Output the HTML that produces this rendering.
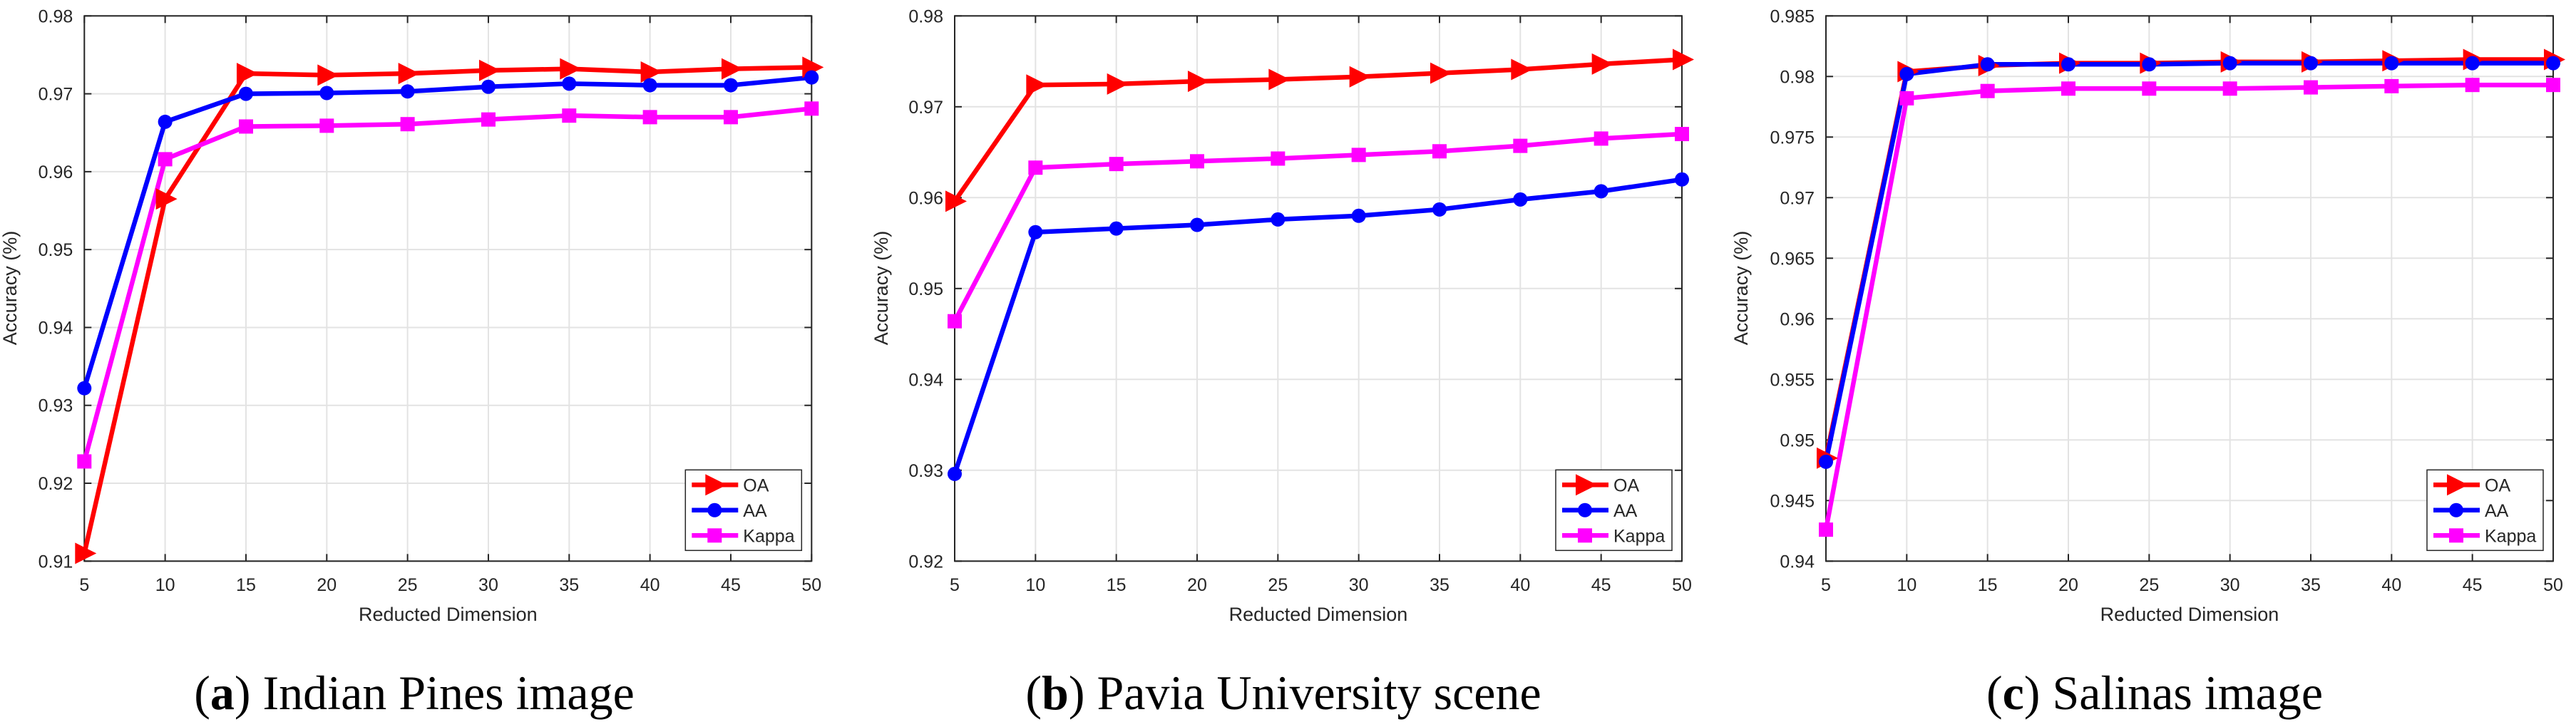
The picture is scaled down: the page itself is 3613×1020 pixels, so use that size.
<!DOCTYPE html>
<html><head><meta charset="utf-8"><style>
html,body{margin:0;padding:0;background:#fff;}
svg{display:block;}
text{font-family:"Liberation Sans",sans-serif;fill:#262626;}
.cap{font-family:"Liberation Serif",serif;fill:#000;}
</style></head><body>
<svg id="fig" width="3613" height="1020" viewBox="0 0 3613 1020" xmlns="http://www.w3.org/2000/svg"></svg>
<script>
const categories = [5,10,15,20,25,30,35,40,45,50];
const oaA = [0.911,0.9565,0.9726,0.9724,0.9726,0.9730,0.9732,0.9728,0.9732,0.9734];
const aaA = [0.9322,0.9664,0.9700,0.9701,0.9703,0.9709,0.9713,0.9711,0.9711,0.9721];
const kaA = [0.9228,0.9616,0.9658,0.9659,0.9661,0.9667,0.9672,0.9670,0.9670,0.9681];
const oaB = [0.9596,0.9724,0.9725,0.9728,0.9730,0.9733,0.9737,0.9741,0.9747,0.9752];
const aaB = [0.9296,0.9562,0.9566,0.9570,0.9576,0.9580,0.9587,0.9598,0.9607,0.9620];
const kaB = [0.9464,0.9633,0.9637,0.9640,0.9643,0.9647,0.9651,0.9657,0.9665,0.9670];
const oaC = [0.9485,0.9804,0.9809,0.9811,0.9811,0.9812,0.9812,0.9813,0.9814,0.9814];
const aaC = [0.9482,0.9802,0.9810,0.9810,0.9810,0.9811,0.9811,0.9811,0.9811,0.9811];
const kaC = [0.9426,0.9782,0.9788,0.9790,0.9790,0.9790,0.9791,0.9792,0.9793,0.9793];
const ticksA = ["0.91","0.92","0.93","0.94","0.95","0.96","0.97","0.98"];
const ticksB = ["0.92","0.93","0.94","0.95","0.96","0.97","0.98"];
const ticksC = ["0.94","0.945","0.95","0.955","0.96","0.965","0.97","0.975","0.98","0.985"];
const seriesNames = ["OA","AA","Kappa"];
const captionsBold = ["a","b","c"];
const captionsText = [" Indian Pines image"," Pavia University scene"," Salinas image"];

const NS="http://www.w3.org/2000/svg";
const svg=document.getElementById('fig');
function mk(tag,attrs,parent){const e=document.createElementNS(NS,tag);for(const k in attrs)e.setAttribute(k,attrs[k]);(parent||svg).appendChild(e);return e;}
const colors=["#ff0000","#0000ff","#ff00ff"];

function marker(g,kind,cx,cy,col){
  let m;
  if(kind===0){m=mk('polygon',{points:`${cx-13},${cy-15} ${cx+17},${cy} ${cx-13},${cy+15}`,fill:col},g);}
  else if(kind===1){m=mk('circle',{cx:cx,cy:cy,r:10,fill:col},g);}
  else {m=mk('rect',{x:cx-10,y:cy-10,width:20,height:20,fill:col},g);}
  return m;
}

function panel(idx,left,ticks,series,capCenter,ylabX){
  const right=left+1020, top=22.3, bottom=787.3;
  const ymin=parseFloat(ticks[0]), ymax=parseFloat(ticks[ticks.length-1]);
  const xs=v=>left+(v-categories[0])/(categories[categories.length-1]-categories[0])*(right-left);
  const ys=v=>bottom-(v-ymin)/(ymax-ymin)*(bottom-top);
  const g=mk('g',{});
  
  
  mk('rect',{x:left,y:top,width:right-left,height:bottom-top,fill:'#fff'},g);
  // grid
  categories.forEach(c=>{const l=mk('line',{x1:xs(c),x2:xs(c),y1:top,y2:bottom,stroke:'#e3e3e3','stroke-width':2},g);
    });
  ticks.forEach(t=>{const l=mk('line',{x1:left,x2:right,y1:ys(parseFloat(t)),y2:ys(parseFloat(t)),stroke:'#e3e3e3','stroke-width':2},g);
    });
  // axes box
  const box=mk('rect',{x:left,y:top,width:right-left,height:bottom-top,fill:'none',stroke:'#262626','stroke-width':2},g);
  
  categories.forEach(c=>{
    mk('line',{x1:xs(c),x2:xs(c),y1:bottom,y2:bottom-10,stroke:'#262626','stroke-width':2},g);
    mk('line',{x1:xs(c),x2:xs(c),y1:top,y2:top+10,stroke:'#262626','stroke-width':2},g);
    const t=mk('text',{x:xs(c),y:829,'font-size':25,'text-anchor':'middle'},g);t.textContent=c;
    
  });
  ticks.forEach(tk=>{const y=ys(parseFloat(tk));
    mk('line',{x1:left,x2:left+10,y1:y,y2:y,stroke:'#262626','stroke-width':2},g);
    mk('line',{x1:right,x2:right-10,y1:y,y2:y,stroke:'#262626','stroke-width':2},g);
    const t=mk('text',{x:left-16,y:y+9,'font-size':25,'text-anchor':'end'},g);t.textContent=tk;
    
  });
  const xl=mk('text',{x:(left+right)/2,y:871,'font-size':27,'text-anchor':'middle'},g);xl.textContent='Reducted Dimension';
  
  const yl=mk('text',{x:0,y:0,'font-size':27,'text-anchor':'middle',transform:`translate(${ylabX},404) rotate(-90)`},g);yl.textContent='Accuracy (%)';
  
  // series
  series.forEach((vals,si)=>{
    const pts=vals.map((v,i)=>`${xs(categories[i])},${ys(v)}`).join(' ');
    const pl=mk('polyline',{points:pts,fill:'none',stroke:colors[si],'stroke-width':6.5,'stroke-linejoin':'round'},g);
    
  });
  series.forEach((vals,si)=>{
    vals.forEach((v,i)=>{const m=marker(g,si,xs(categories[i]),ys(v),colors[si]);
      });
  });
  // legend
  const lg=mk('g',{},g);
  
  const lx=right-177, ly=bottom-128;
  mk('rect',{x:lx,y:ly,width:163,height:113,fill:'#fff',stroke:'#262626','stroke-width':1.5},lg);
  seriesNames.forEach((n,si)=>{const cy=ly+21+si*35.5;
    mk('line',{x1:lx+9,x2:lx+74,y1:cy,y2:cy,stroke:colors[si],'stroke-width':6.5},lg);
    marker(lg,si,lx+41,cy,colors[si]);
    const t=mk('text',{x:lx+81,y:cy+9,'font-size':25,fill:'#000'},lg);t.textContent=n;
    
  });
  const cap=mk('text',{x:capCenter,y:995,'font-size':68,'text-anchor':'middle',class:'cap'},svg);
  
  const t1=mk('tspan',{},cap);t1.textContent='(';
  const t2=mk('tspan',{'font-weight':'bold'},cap);t2.textContent=captionsBold[idx];
  const t3=mk('tspan',{},cap);t3.textContent=')'+captionsText[idx];
}
panel(0,118.3,ticksA,[oaA,aaA,kaA],581,23);
panel(1,1339,ticksB,[oaB,aaB,kaB],1800,1245);
panel(2,2561,ticksC,[oaC,aaC,kaC],3022,2451);
</script>
</body></html>
